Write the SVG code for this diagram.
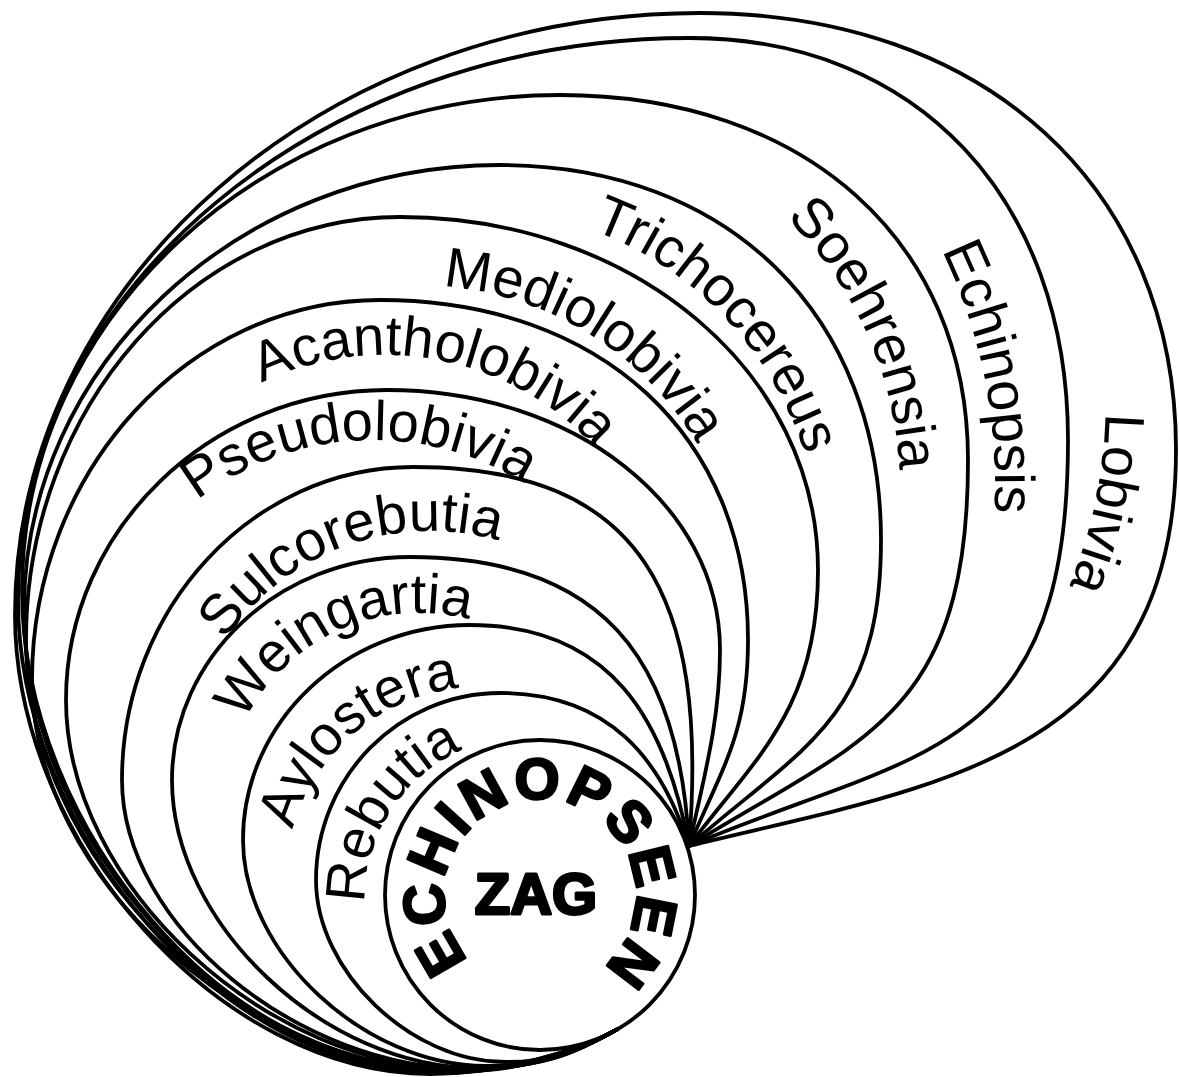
<svg xmlns="http://www.w3.org/2000/svg" width="1179" height="1077" viewBox="0 0 1179 1077">
<defs>
<style>
.loop{fill:none;stroke:#000;stroke-width:3.8;stroke-linejoin:round;stroke-linecap:round}
.lbl{font-family:"Liberation Sans",Arial,Helvetica,sans-serif;font-size:56px;fill:#000}
.heavy{font-family:"Liberation Sans",Arial,Helvetica,sans-serif;font-weight:bold;fill:#000;stroke:#000;stroke-linejoin:round}
</style>
<path id="b-lobivia" d="M1100.6,334.5 A480,480 0 0 1 1033.4,655.9"/>
<path id="b-echinopsis" d="M890.2,164.3 A540,540 0 0 1 979.7,611.9"/>
<path id="b-soehrensia" d="M731.4,173.2 A380,380 0 0 1 896.5,540.6"/>
<path id="b-trichocereus" d="M534,213.9 A351,351 0 0 1 818,513.2"/>
<path id="b-mediolobivia" d="M384.1,287.4 A323.5,323.5 0 0 1 722.6,497.3"/>
<path id="b-acantholobivia" d="M221.5,406.5 A285,285 0 0 1 624,484.8"/>
<path id="b-pseudolobivia" d="M160.5,534.6 A286,286 0 0 1 564.4,513.5"/>
<path id="b-sulcorebutia" d="M204.4,677.5 A247,247 0 0 1 538.3,556"/>
<path id="b-weingartia" d="M232.1,754.8 A194,194 0 0 1 502.8,632"/>
<path id="b-aylostera" d="M286.6,865.4 A194,194 0 0 1 495.6,687.6"/>
<path id="b-rebutia" d="M368.8,932.6 A161,161 0 0 1 491.4,740.8"/>
<path id="b-echinopseen" d="M469.2,959.9 A96,96 0 1 1 560.8,988.7"/>
</defs>
<rect width="1179" height="1077" fill="#fff"/>

<g id="lobivia">
<path class="loop" d="M617.5,1029.2 C574.2,1054.2 490,1074 430,1074 C222.5,1074 15,844.5 15,615 C15,283.9 323.3,13 700,13 C985.6,13 1176,187.8 1176,450 C1176,760 931.5,786 689,846"/>
<text class="lbl"><textPath href="#b-lobivia" startOffset="50%" text-anchor="middle">Lobivia</textPath></text>
</g>
<g id="echinopsis">
<path class="loop" d="M617.5,1029.2 C574.2,1054.2 496,1073 436,1073 C227,1073 18,836.5 18,600 C18,290.9 320.4,38 690,38 C916.8,38 1068,198.8 1068,440 C1068,760 919,748.5 689,846"/>
<text class="lbl"><textPath href="#b-echinopsis" startOffset="50%" text-anchor="middle">Echinopsis</textPath></text>
</g>
<g id="soehrensia">
<path class="loop" d="M617.5,1029.2 C574.2,1054.2 502,1073 442,1073 C232,1073 22,831.5 22,590 C22,317.8 264.1,95 560,95 C804.8,95 968,241 968,460 C968,720 859,740 689,846"/>
<text class="lbl"><textPath href="#b-soehrensia" startOffset="50%" text-anchor="middle">Soehrensia</textPath></text>
</g>
<g id="trichocereus">
<path class="loop" d="M617.5,1029.2 C574.2,1054.2 508,1072 448,1072 C236,1072 24,841 24,610 C24,365.3 238.2,165 500,165 C728.6,165 881,315 881,540 C881,720 801.5,747 689,846"/>
<text class="lbl"><textPath href="#b-trichocereus" startOffset="50%" text-anchor="middle">Trichocereus</textPath></text>
</g>
<g id="mediolobivia">
<path class="loop" d="M617.5,1029.2 C574.2,1054.2 514,1071 454,1071 C240,1071 26,855.5 26,640 C26,407.4 194.3,217 400,217 C634.1,217 818,372.3 818,570 C818,710 755,758 689,846"/>
<text class="lbl"><textPath href="#b-mediolobivia" startOffset="50%" text-anchor="middle">Mediolobivia</textPath></text>
</g>
<g id="acantholobivia">
<path class="loop" d="M617.5,1029.2 C574.2,1054.2 520,1071 460,1071 C246,1071 32,875.5 32,680 C32,471 188.6,300 380,300 C600.8,300 748,436 748,640 C748,730 725,763 689,846"/>
<text class="lbl"><textPath href="#b-acantholobivia" startOffset="50%" text-anchor="middle">Acantholobivia</textPath></text>
</g>
<g id="pseudolobivia">
<path class="loop" d="M617.5,1029.2 C574.2,1054.2 526,1070 466,1070 C266,1070 66,885 66,700 C66,529.5 210.5,390 387,390 C573.5,390 720,504.4 720,650 C720,720 704,777.4 689,846"/>
<text class="lbl"><textPath href="#b-pseudolobivia" startOffset="50%" text-anchor="middle">Pseudolobivia</textPath></text>
</g>
<g id="sulcorebutia">
<path class="loop" d="M617.5,1029.2 C574.2,1054.2 532,1069 472,1069 C297,1069 122,924.5 122,780 C122,607.9 253,467 413,467 C643,467 709,596 689,846"/>
<text class="lbl"><textPath href="#b-sulcorebutia" startOffset="50%" text-anchor="middle">Sulcorebutia</textPath></text>
</g>
<g id="weingartia">
<path class="loop" d="M617.5,1029.2 C574.2,1054.2 538,1068 478,1068 C325,1068 172,924 172,780 C172,657.4 279.1,557 410,557 C600,557 679.5,656 689,846"/>
<text class="lbl"><textPath href="#b-weingartia" startOffset="50%" text-anchor="middle">Weingartia</textPath></text>
</g>
<g id="aylostera">
<path class="loop" d="M617.5,1029.2 C574.2,1054.2 546,1066 486,1066 C364.5,1066 243,953 243,840 C243,721.8 345.2,625 470,625 C610,625 665.6,718.6 689,846"/>
<text class="lbl"><textPath href="#b-aylostera" startOffset="50%" text-anchor="middle">Aylostera</textPath></text>
</g>
<g id="rebutia">
<path class="loop" d="M617.5,1029.2 C574.2,1054.2 545,1062 505,1062 C410.5,1062 316,971 316,880 C316,777.2 398.8,693 500,693 C610,693 662,760.5 689,846"/>
<text class="lbl"><textPath href="#b-rebutia" startOffset="50%" text-anchor="middle">Rebutia</textPath></text>
</g>
<g id="echinopseen">
<circle class="loop" cx="540" cy="895" r="155"/>
<text class="heavy" font-size="58" stroke-width="2.6" letter-spacing="3.2"><textPath href="#b-echinopseen">ECHINOPSEEN</textPath></text>
<text class="heavy" x="536" y="914" font-size="58" stroke-width="3" text-anchor="middle">ZAG</text>
</g>
</svg>
